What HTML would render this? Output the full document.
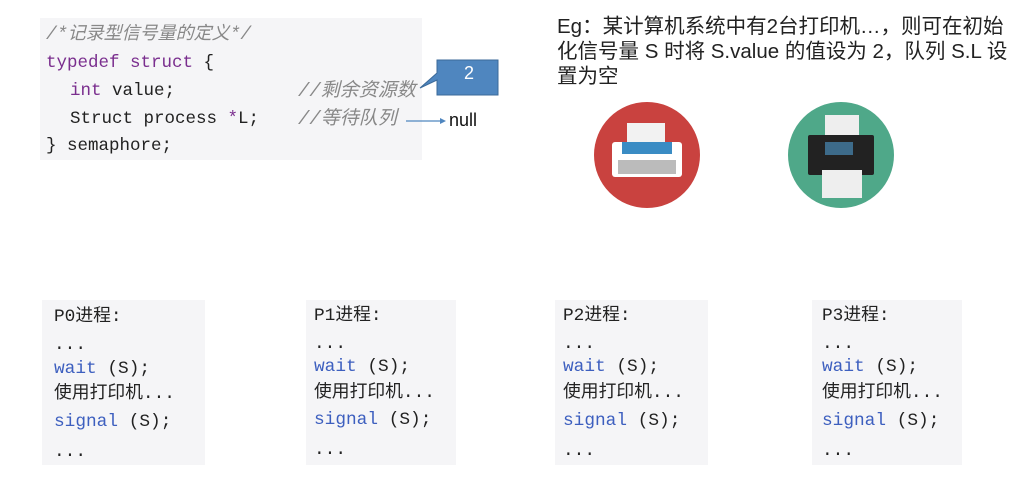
<!DOCTYPE html>
<html><head><meta charset="utf-8"><style>
body{margin:0;width:1029px;height:478px;background:#fff;position:relative;overflow:hidden;font-family:"Liberation Sans","Noto Sans CJK SC",sans-serif}
.code{position:absolute;background:#f5f5f7;font-family:"Liberation Mono","Noto Sans CJK SC",monospace;color:#222}
.ln{position:absolute;white-space:pre;font-size:17.5px;line-height:22px;height:22px}
.kw{color:#7a2e8e}.cm{color:#888;font-style:italic;font-size:19px}.bl{color:#3d5fbf}
.p .ln{font-size:17.8px}
</style></head><body>
<div class="code" style="left:40px;top:18px;width:382px;height:142px">
<div class="ln cm" style="left:6px;top:6px;font-size:18px">/*记录型信号量的定义*/</div>
<div class="ln" style="left:6px;top:34px"><span class="kw">typedef struct</span> {</div>
<div class="ln" style="left:30px;top:62px"><span class="kw">int</span> value;</div>
<div class="ln cm" style="left:258px;top:62px">//剩余资源数</div>
<div class="ln" style="left:30px;top:90px">Struct process <span class="kw">*</span>L;</div>
<div class="ln cm" style="left:258px;top:90px">//等待队列</div>
<div class="ln" style="left:6px;top:117px">} semaphore;</div>
</div>
<svg style="position:absolute;left:0;top:0" width="1029" height="478">
<polygon points="437,60 498,60 498,95 437,95 437,80 420,88 437,73" fill="#4f86bf" stroke="#3b6a9a"/>
<line x1="406" y1="121" x2="442" y2="121" stroke="#4f86bf" stroke-width="1.2"/>
<polygon points="446,121 440,118 440,124" fill="#4f86bf"/>
<circle cx="647" cy="155" r="53" fill="#c9423f"/>
<rect x="627" y="123" width="38" height="28" fill="#f2f2f2"/>
<rect x="612" y="142" width="70" height="35" rx="3" fill="#fff"/>
<rect x="622" y="142" width="50" height="12" fill="#3a8cc4"/>
<rect x="618" y="160" width="58" height="14" fill="#bbb"/>
<circle cx="841" cy="155" r="53" fill="#4fa889"/>
<rect x="825" y="115" width="34" height="30" fill="#eee"/>
<rect x="808" y="135" width="66" height="40" rx="2" fill="#222"/>
<rect x="825" y="142" width="28" height="13" fill="#3d6b8a"/>
<rect x="822" y="170" width="40" height="28" fill="#eee"/>
</svg>
<div style="position:absolute;left:454px;top:63px;width:30px;text-align:center;color:#fff;font-size:18px">2</div>
<div style="position:absolute;left:449px;top:110px;font-size:18px;color:#111">null</div>
<div style="position:absolute;left:557px;top:14px;width:460px;font-size:20.5px;line-height:25px;color:#222">Eg：某计算机系统中有2台打印机…，则可在初始化信号量 S 时将 S.value 的值设为 2，队列 S.L 设置为空</div>
<div class="code p" style="left:42px;top:300px;width:163px;height:165px"><div class="ln" style="left:12px;top:6px">P0进程:</div><div class="ln" style="left:12px;top:34px">...</div><div class="ln" style="left:12px;top:58px"><span class="bl">wait</span> (S);</div><div class="ln" style="left:12px;top:83px">使用打印机...</div><div class="ln" style="left:12px;top:111px"><span class="bl">signal</span> (S);</div><div class="ln" style="left:12px;top:141px">...</div></div>
<div class="code p" style="left:306px;top:300px;width:150px;height:165px"><div class="ln" style="left:8px;top:5px">P1进程:</div><div class="ln" style="left:8px;top:33px">...</div><div class="ln" style="left:8px;top:56px"><span class="bl">wait</span> (S);</div><div class="ln" style="left:8px;top:82px">使用打印机...</div><div class="ln" style="left:8px;top:109px"><span class="bl">signal</span> (S);</div><div class="ln" style="left:8px;top:139px">...</div></div>
<div class="code p" style="left:555px;top:300px;width:153px;height:165px"><div class="ln" style="left:8px;top:5px">P2进程:</div><div class="ln" style="left:8px;top:33px">...</div><div class="ln" style="left:8px;top:56px"><span class="bl">wait</span> (S);</div><div class="ln" style="left:8px;top:82px">使用打印机...</div><div class="ln" style="left:8px;top:110px"><span class="bl">signal</span> (S);</div><div class="ln" style="left:8px;top:140px">...</div></div>
<div class="code p" style="left:812px;top:300px;width:150px;height:165px"><div class="ln" style="left:10px;top:5px">P3进程:</div><div class="ln" style="left:10px;top:33px">...</div><div class="ln" style="left:10px;top:56px"><span class="bl">wait</span> (S);</div><div class="ln" style="left:10px;top:82px">使用打印机...</div><div class="ln" style="left:10px;top:110px"><span class="bl">signal</span> (S);</div><div class="ln" style="left:10px;top:140px">...</div></div>
</body></html>
